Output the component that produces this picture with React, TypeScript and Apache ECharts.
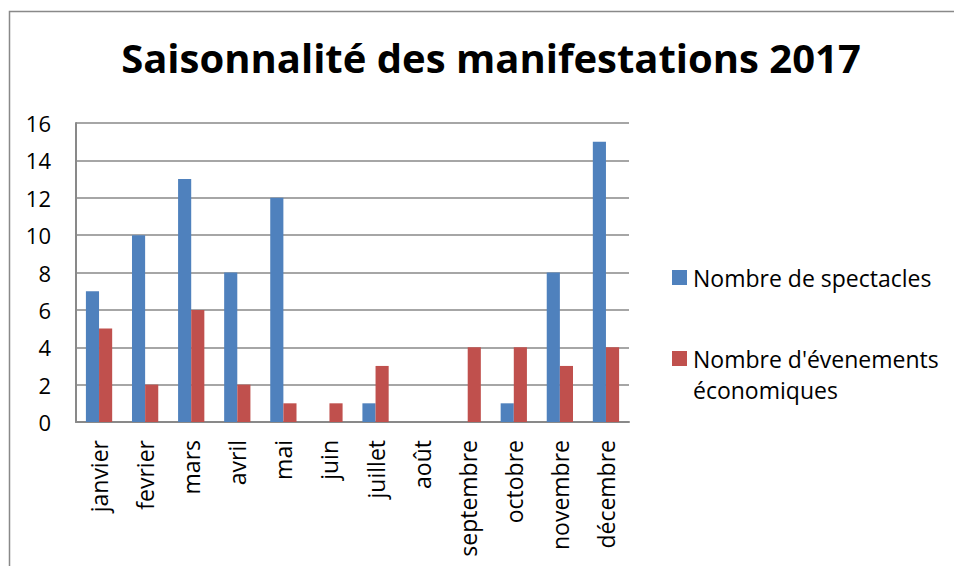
import React, { useEffect, useRef } from "react";
import * as echarts from "echarts";

const months = ["janvier", "fevrier", "mars", "avril", "mai", "juin", "juillet", "août", "septembre", "octobre", "novembre", "décembre"];
const spectacles = [7, 10, 13, 8, 12, 0, 1, 0, 0, 1, 8, 15];
const evenements = [5, 2, 6, 2, 1, 1, 3, 0, 4, 4, 3, 4];
const seriesNames = ["Nombre de spectacles", "Nombre d'évenements économiques"];
const titleText = "Saisonnalité des manifestations 2017";

const FONT = "'Open Sans', 'Noto Sans', sans-serif";
const GRAY = "#898989";

export default function App() {
  const ref = useRef<HTMLDivElement>(null);
  useEffect(() => {
    if (!ref.current) return;
    const chart = echarts.init(ref.current, undefined, { renderer: "svg" });
    const legendBase = {
      orient: "vertical",
      left: 667,
      itemWidth: 15,
      itemHeight: 15,
      icon: "rect",
      itemStyle: { borderWidth: 0 },
    };
    chart.setOption({
      animation: false,
      backgroundColor: "#ffffff",
      title: {
        text: titleText,
        left: 486,
        textAlign: "center",
        top: 32,
        textStyle: { fontFamily: FONT, fontWeight: "bold", fontSize: 40, color: "#000" },
      },
      graphic: [
        {
          type: "rect",
          shape: { x: 9.5, y: 11.5, width: 1200, height: 1200 },
          style: { fill: "none", stroke: GRAY, lineWidth: 1.5 },
          silent: true,
        },
      ],
      legend: [
        {
          ...legendBase,
          top: 257,
          data: [seriesNames[0]],
          textStyle: { fontFamily: FONT, fontSize: 23, color: "#000", lineHeight: 31, padding: [0, 0, 0, 1] },
        },
        {
          ...legendBase,
          top: 307,
          data: [seriesNames[1]],
          formatter: () => "\nNombre d'évenements\néconomiques",
          textStyle: { fontFamily: FONT, fontSize: 23, color: "#000", lineHeight: 31, padding: [0, 0, 0, 1] },
        },
      ],
      grid: { left: 76, top: 123, right: 325, bottom: 144, containLabel: false },
      xAxis: {
        type: "category",
        data: months,
        axisLine: { lineStyle: { color: GRAY, width: 2 } },
        axisTick: { show: false },
        axisLabel: { rotate: 90, margin: 18, fontFamily: FONT, fontSize: 23, color: "#000" },
      },
      yAxis: {
        type: "value",
        min: 0,
        max: 16,
        interval: 2,
        axisLine: { show: true, lineStyle: { color: GRAY, width: 2 } },
        axisTick: { show: false },
        splitLine: { lineStyle: { color: GRAY, width: 1.5 } },
        axisLabel: { margin: 25, fontFamily: FONT, fontSize: 22, color: "#000" },
      },
      series: [
        {
          name: seriesNames[0],
          type: "bar",
          data: spectacles,
          itemStyle: { color: "#4f81bd" },
          barGap: "0%",
          barCategoryGap: "43%",
        },
        {
          name: seriesNames[1],
          type: "bar",
          data: evenements,
          itemStyle: { color: "#c0504d" },
          barGap: "0%",
          barCategoryGap: "43%",
        },
      ],
    });
    return () => chart.dispose();
  }, []);
  return <div ref={ref} style={{ position: "fixed", left: 0, top: 0, width: 954, height: 566 }} />;
}
